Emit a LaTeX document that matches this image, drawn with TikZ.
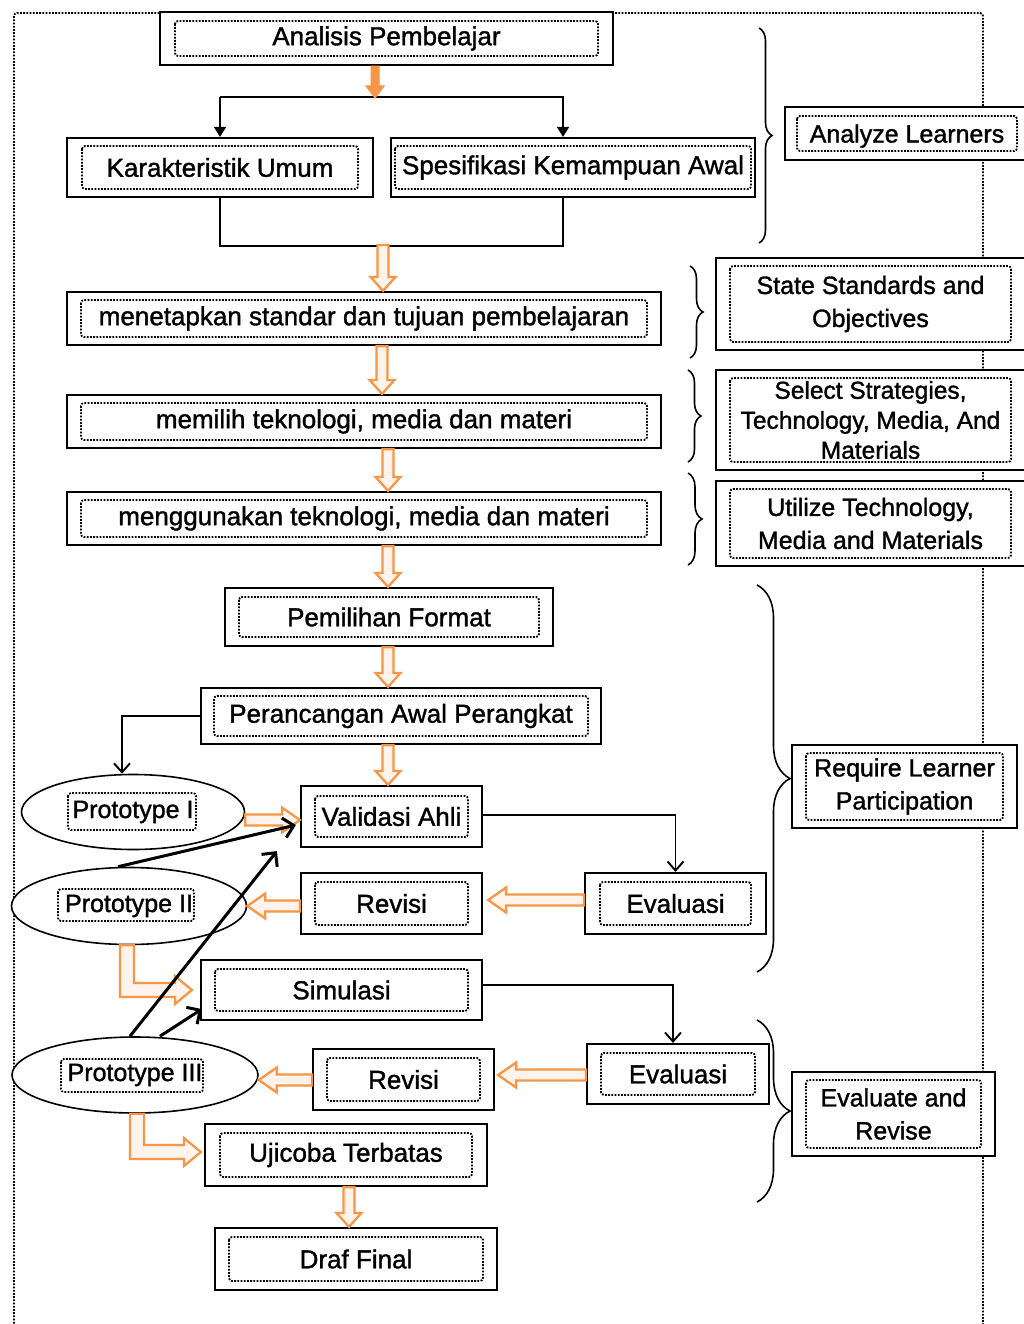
\documentclass[tikz,border=0pt]{standalone}
\usepackage{fontspec}
\setmainfont{Liberation Sans}[FakeBold=1.3]
\usetikzlibrary{shapes.geometric,decorations.pathreplacing,arrows.meta,calc}
\definecolor{org}{HTML}{F79646}
\newcommand\bx[9][]{\node[obox,#1,minimum width={(#5-#3)*1pt},minimum height={(#6-#4)*1pt}] (#2) at ({(#3+#5)/2},{(#4+#6)/2}) {#9};
\draw[ibox] ({#3+#7},{#4+#8}) rectangle ({#5-#7},{#6-#8});}
\newcommand\vdown[3]{\draw[oarrow] let \p1=(#2), \p2=(#3) in
 (#1pt-5.5pt,\y1) -- (#1pt-5.5pt,\y2+14pt) -- (#1pt-12.5pt,\y2+14pt) -- (#1pt,\y2) -- (#1pt+12.5pt,\y2+14pt) -- (#1pt+5.5pt,\y2+14pt) -- (#1pt+5.5pt,\y1) -- cycle;}
\newcommand\hright[3]{\draw[oarrow] let \p1=(#2), \p2=(#3) in
 (\x1,-#1pt+5.5pt) -- (\x2-18pt,-#1pt+5.5pt) -- (\x2-18pt,-#1pt+12.5pt) -- (\x2,-#1pt) -- (\x2-18pt,-#1pt-12.5pt) -- (\x2-18pt,-#1pt-5.5pt) -- (\x1,-#1pt-5.5pt) -- cycle;}
\newcommand\hleft[3]{\draw[oarrow] let \p1=(#2), \p2=(#3) in
 (\x1,-#1pt+5.5pt) -- (\x2+18pt,-#1pt+5.5pt) -- (\x2+18pt,-#1pt+12.5pt) -- (\x2,-#1pt) -- (\x2+18pt,-#1pt-12.5pt) -- (\x2+18pt,-#1pt-5.5pt) -- (\x1,-#1pt-5.5pt) -- cycle;}
\newcommand\Larrow[4]{\draw[oarrow] let \p1=(#3), \p2=(#4) in
 (#1pt-7pt,\y1) -- (#1pt-7pt,-#2pt-7pt) -- (\x2-17pt,-#2pt-7pt) -- (\x2-17pt,-#2pt-14pt) -- (\x2,-#2pt) -- (\x2-17pt,-#2pt+14pt) -- (\x2-17pt,-#2pt+7pt) -- (#1pt+7pt,-#2pt+7pt) -- (#1pt+7pt,\y1) -- cycle;}
\begin{document}
\begin{tikzpicture}[x=1pt,y=-1pt,
 obox/.style={draw=black,line width=2.2pt,fill=white,inner sep=0pt,align=center,font=\fontsize{26}{30}\selectfont},
 rfont/.style={font=\fontsize{25}{33}\selectfont},
 ibox/.style={draw=black,line width=1.8pt,dash pattern=on 1.8pt off 1.4pt,rounded corners=3pt},
 ell/.style={ellipse,draw=black,line width=1.6pt,fill=white,inner sep=0pt,font=\fontsize{25}{30}\selectfont},
 frame/.style={draw=black,line width=1.8pt,dash pattern=on 1.8pt off 1.4pt,rounded corners=3pt},
 brc/.style={draw=black,line width=1.6pt,decorate},
 conn/.style={draw=black,line width=1.9pt},
 barb/.style={-{Straight Barb[length=9pt,width=16pt]}},
 tarr/.style={-{Triangle[length=10pt,width=12pt]}},
 thk/.style={draw=black,line width=3pt,-{Straight Barb[length=10pt,width=20pt]}},
 oarrow/.style={draw=org,line width=2.3pt,fill=org!10,line join=miter},
 sarrow/.style={draw=org,line width=1pt,fill=org}]
\useasboundingbox (0,0) rectangle (1023,1324);
\fill[white] (0,0) rectangle (1023,1324);
% outer dotted frame
\draw[frame] (14,1330) -- (14,13) -- (983,13) -- (983,1330);
% braces
\draw[brc,decoration={brace,amplitude=13pt}] (759,28) -- (759,243);
\draw[brc,decoration={brace,amplitude=13pt}] (690,266) -- (690,358);
\draw[brc,decoration={brace,amplitude=13pt}] (688,370) -- (688,462);
\draw[brc,decoration={brace,amplitude=14pt}] (688,473) -- (688,565);
\draw[brc,decoration={brace,amplitude=33pt}] (757,585) -- (757,972);
\draw[brc,decoration={brace,amplitude=33pt}] (757,1020) -- (757,1202);
% left boxes
\bx{ap}{160}{12}{613}{65}{15}{9}{Analisis Pembelajar}
\bx{ku}{67}{138}{373}{197}{15}{8}{Karakteristik Umum}
\bx{sk}{391}{138}{755}{197}{4}{8}{Spesifikasi Kemampuan Awal}
\bx{ma}{67}{292}{661}{345}{14}{8}{menetapkan standar dan tujuan pembelajaran}
\bx{mb}{67}{395}{661}{448}{14}{8}{memilih teknologi, media dan materi}
\bx{mc}{67}{492}{661}{545}{14}{8}{menggunakan teknologi, media dan materi}
\bx{pf}{225}{588}{553}{646}{14}{9}{Pemilihan Format}
\bx{pa}{201}{688}{601}{744}{13}{8}{Perancangan Awal Perangkat}
\bx{va}{301}{786}{482}{847}{14}{10}{Validasi Ahli}
\bx{ra}{301}{873}{482}{934}{14}{9}{Revisi}
\bx{ea}{585}{873}{766}{934}{15}{9}{Evaluasi}
\bx{si}{201}{960}{482}{1020}{14}{9}{Simulasi}
\bx{eb}{587}{1044}{769}{1104}{14}{9}{Evaluasi}
\bx{rb}{313}{1049}{494}{1110}{14}{9}{Revisi}
\bx{uj}{205}{1124}{487}{1186}{15}{9}{Ujicoba Terbatas}
\bx{df}{215}{1228}{497}{1290}{14}{9}{Draf Final}
% right boxes
\bx[rfont,text depth=0pt]{al}{785}{107}{1029}{160}{12}{9}{Analyze Learners}
\bx[rfont]{ss}{716}{258}{1025}{350}{14}{8}{State Standards and\\Objectives}
\bx[rfont,font=\fontsize{24.5}{30}\selectfont]{st}{716}{370}{1025}{470}{14}{8}{Select Strategies,\\Technology, Media, And\\Materials}
\bx[rfont]{ut}{716}{481}{1025}{566}{14}{8}{Utilize Technology,\\Media and Materials}
\bx[rfont]{rl}{792}{745}{1017}{828}{14}{8}{Require Learner\\Participation}
\bx[rfont]{er}{792}{1072}{995}{1156}{14}{8}{Evaluate and\\Revise}
% ellipses
\node[ell,minimum width=223pt,minimum height=75pt] (pa1) at (133,812) {Prototype I};
\draw[ibox] (68,793) rectangle (196,830);
\node[ell,minimum width=235pt,minimum height=77pt] (pa2) at (129,906) {Prototype II};
\draw[ibox] (58,889) rectangle (194,921);
\node[ell,minimum width=246pt,minimum height=76pt] (pa3) at (135,1075) {Prototype III};
\draw[ibox] (61,1059) rectangle (203,1092);
% black connectors
\coordinate (t1) at (375,98);
\coordinate (t2) at (383,245);
\draw[conn,tarr] (ku.north) ++(0,-40) -- (ku.north);
\draw[conn,tarr] (ku.north) ++(0,-40) -| ([xshift=-10pt]sk.north);
\draw[conn] (ku.south) -- ++(0,48) -| ([xshift=-10pt]sk.south);
\draw[conn,barb] (pa.west) -| ([xshift=-11pt]pa1.north);
\draw[conn,barb] ([yshift=1.5pt]va.east) -| (ea.north);
\draw[conn,barb] ([yshift=5pt]si.east) -| ([xshift=-5pt]eb.north);
% orange arrows
\draw[sarrow] let \p1=(ap.south), \p2=(t1) in (371pt,\y1) -- (371pt,\y2+12pt) -- (366pt,\y2+12pt) -- (375pt,\y2) -- (384pt,\y2+12pt) -- (379pt,\y2+12pt) -- (379pt,\y1) -- cycle;
\vdown{383}{t2}{ma.north}
\vdown{382}{ma.south}{mb.north}
\vdown{388}{mb.south}{mc.north}
\vdown{388}{mc.south}{pf.north}
\vdown{388}{pf.south}{pa.north}
\vdown{388}{pa.south}{va.north}
\vdown{349}{uj.south}{df.north}
\hright{820}{pa1.east}{va.west}
\hleft{906}{ra.west}{pa2.east}
\hleft{900}{ea.west}{[xshift=5pt]ra.east}
\hleft{1075}{eb.west}{[xshift=3pt]rb.east}
\hleft{1080}{rb.west}{pa3.east}
\Larrow{127}{990}{pa2.south}{[xshift=-8pt]si.west}
\Larrow{137}{1152}{pa3.south}{[xshift=-3pt]uj.west}
% thick black arrows
\draw[thk] ([xshift=-11pt]pa2.north) -- ([shift={(-4pt,-8.5pt)}]va.west);
\draw[thk] ([xshift=-5pt]pa3.north) -- ([shift={(-23pt,-3pt)}]va.south west);
\draw[thk] ([xshift=25pt]pa3.north) -- ([shift={(2pt,12pt)}]si.south west);
\end{tikzpicture}
\end{document}
